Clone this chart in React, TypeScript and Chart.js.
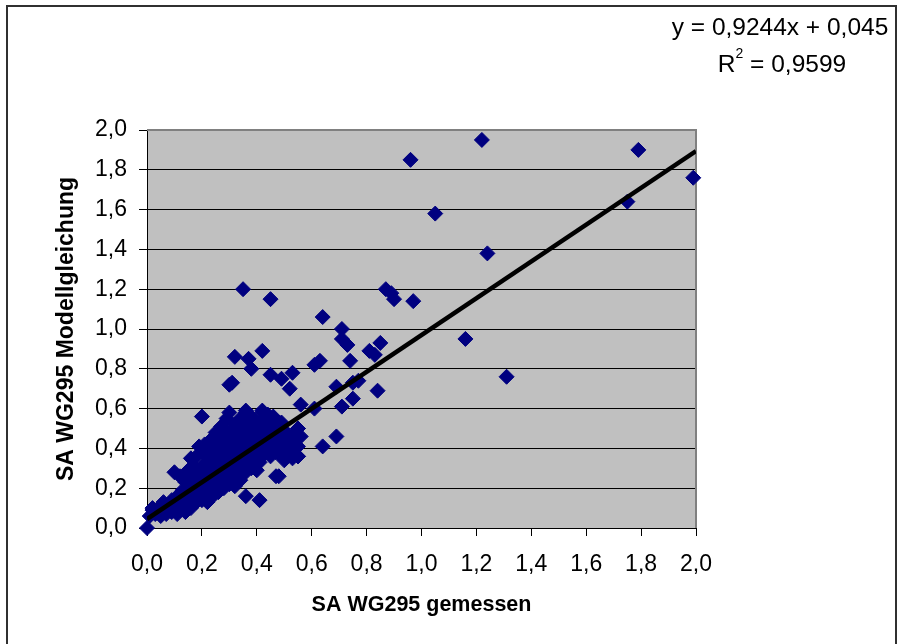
import React, { useEffect, useRef } from "react";
import { Chart, registerables } from "chart.js";

Chart.register(...registerables);

// Measured (x) and model (y) values, grouped so both arrays stay aligned
const measured = [
  0, 0.01, 0.02, 0.03, 0.02,
  0.04, 0.05, 0.05, 0.06, 0.06,
  0.07, 0.08, 0.08, 0.09, 0.09,
  0.10, 0.10, 0.11, 0.11, 0.12, 0.12, 0.12,
  0.13, 0.13, 0.14, 0.14, 0.14, 0.15, 0.15, 0.15,
  0.16, 0.16, 0.16, 0.17, 0.17, 0.17, 0.18, 0.18, 0.18, 0.18,
  0.19, 0.19, 0.19, 0.20, 0.20, 0.20, 0.20, 0.21, 0.21, 0.21, 0.21,
  0.22, 0.22, 0.22, 0.23, 0.23, 0.23, 0.23, 0.24, 0.24, 0.24, 0.24,
  0.25, 0.25, 0.25, 0.25, 0.26, 0.26, 0.26, 0.26, 0.27, 0.27, 0.27, 0.27,
  0.28, 0.28, 0.28, 0.28, 0.29, 0.29, 0.29, 0.29, 0.30, 0.30, 0.30, 0.30, 0.30,
  0.31, 0.31, 0.31, 0.32, 0.32, 0.32, 0.32, 0.33, 0.33, 0.33, 0.33,
  0.34, 0.34, 0.34, 0.34, 0.35, 0.35, 0.35, 0.36, 0.36, 0.36, 0.36, 0.36,
  0.37, 0.37, 0.37, 0.38, 0.38, 0.38, 0.38, 0.39, 0.39, 0.39,
  0.40, 0.40, 0.40, 0.40, 0.41, 0.41, 0.41, 0.42, 0.42, 0.42, 0.42,
  0.43, 0.43, 0.43, 0.44, 0.44, 0.44, 0.45, 0.45, 0.45,
  0.46, 0.46, 0.46, 0.47, 0.47, 0.47, 0.48, 0.48, 0.48,
  0.49, 0.49, 0.49, 0.50, 0.50, 0.50, 0.51, 0.52,
  0.53, 0.53, 0.54, 0.55, 0.55, 0.56, 0.56,
  0.32, 0.37, 0.42, 0.38, 0.45, 0.49, 0.53, 0.52, 0.30, 0.31,
  0.36, 0.42, 0.61, 0.71, 0.75, 0.69, 0.64, 0.48, 0.41, 0.55,
  0.55, 0.50, 0.55, 0.54, 0.84, 0.69, 0.75, 0.77, 0.61, 0.63,
  0.74, 0.71, 0.73, 0.71, 0.64, 0.81, 0.83, 0.85, 0.87, 0.89,
  0.90, 0.97, 0.35, 0.45, 0.96, 1.05, 1.22, 1.24, 1.16, 1.31,
  1.75, 1.79, 1.99, 0.49, 0.50, 0.53, 0.50,
];

const model = [
  0, 0.06, 0.09, 0.07, 0.10,
  0.08, 0.11, 0.06, 0.13, 0.09,
  0.07, 0.12, 0.10, 0.08, 0.14,
  0.28, 0.11, 0.07, 0.16, 0.13, 0.09, 0.26,
  0.19, 0.11, 0.08, 0.23, 0.15, 0.29, 0.12, 0.18,
  0.35, 0.21, 0.10, 0.26, 0.16, 0.31, 0.13, 0.22, 0.28, 0.36,
  0.41, 0.19, 0.25, 0.56, 0.14, 0.31, 0.21, 0.37, 0.27, 0.17, 0.42,
  0.33, 0.23, 0.13, 0.44, 0.29, 0.19, 0.38, 0.26, 0.35, 0.16, 0.31,
  0.48, 0.22, 0.40, 0.29, 0.36, 0.18, 0.44, 0.27, 0.33, 0.24, 0.39, 0.51,
  0.29, 0.20, 0.46, 0.36, 0.42, 0.25, 0.33, 0.55, 0.38, 0.22, 0.31, 0.48, 0.58,
  0.27, 0.43, 0.35, 0.52, 0.30, 0.40, 0.21, 0.37, 0.46, 0.26, 0.33,
  0.42, 0.29, 0.55, 0.24, 0.36, 0.49, 0.31, 0.58, 0.40, 0.28, 0.16, 0.45,
  0.34, 0.52, 0.43, 0.30, 0.47, 0.38, 0.56, 0.33, 0.42, 0.50,
  0.37, 0.45, 0.50, 0.29, 0.53, 0.40, 0.33, 0.58, 0.47, 0.36, 0.41,
  0.44, 0.52, 0.38, 0.49, 0.41, 0.57, 0.45, 0.36, 0.53,
  0.41, 0.50, 0.56, 0.44, 0.38, 0.26, 0.48, 0.53, 0.43,
  0.46, 0.38, 0.52, 0.41, 0.35, 0.49, 0.45, 0.38,
  0.43, 0.35, 0.47, 0.50, 0.36, 0.46, 0.62,
  0.86, 0.85, 0.89, 0.80, 0.77, 0.75, 0.78, 0.70, 0.72, 0.73,
  0.59, 0.59, 0.60, 0.61, 0.65, 0.46, 0.41, 0.26, 0.14, 0.36,
  0.41, 0.34, 0.50, 0.47, 0.69, 0.71, 0.73, 0.74, 0.82, 0.84,
  0.84, 0.95, 0.92, 1.00, 1.06, 0.89, 0.87, 0.93, 1.20, 1.18,
  1.15, 1.14, 1.20, 1.15, 1.85, 1.58, 1.95, 1.38, 0.95, 0.76,
  1.64, 1.90, 1.76, 0.53, 0.46, 0.43, 0.35,
];

// Linear trendline (Excel)
const trendSlope = 0.9244;
const trendIntercept = 0.045;
const trendRange = [0, 2];
const equationLine = "y = 0,9244x + 0,045";
const r2Value = "0,9599";

const xTickValues = [0, 0.2, 0.4, 0.6, 0.8, 1.0, 1.2, 1.4, 1.6, 1.8, 2.0];
const yTickValues = [0, 0.2, 0.4, 0.6, 0.8, 1.0, 1.2, 1.4, 1.6, 1.8, 2.0];
const xTitle = "SA WG295 gemessen";
const yTitle = "SA WG295 Modellgleichung";

const FONT = "'Liberation Sans', Arial, Helvetica, sans-serif";
const fmt = (v: number) => v.toFixed(1).replace(".", ",");

const decorPlugin = {
  id: "decor",
  beforeDraw(chart: any) {
    const { ctx, chartArea: a } = chart;
    ctx.save();
    ctx.fillStyle = "#ffffff";
    ctx.fillRect(0, 0, chart.width, chart.height);
    ctx.fillStyle = "#c0c0c0";
    ctx.fillRect(a.left, a.top, a.right - a.left, a.bottom - a.top);
    ctx.restore();
  },
  beforeDatasetsDraw(chart: any) {
    const { ctx, chartArea: a } = chart;
    ctx.save();
    ctx.strokeStyle = "#808080";
    ctx.lineWidth = 2;
    ctx.beginPath();
    ctx.moveTo(a.left, a.top);
    ctx.lineTo(a.right, a.top);
    ctx.lineTo(a.right, a.bottom);
    ctx.stroke();
    ctx.restore();
  },
  afterDraw(chart: any) {
    const { ctx } = chart;
    ctx.save();
    // outer chart border
    ctx.strokeStyle = "#303030";
    ctx.lineWidth = 2;
    ctx.strokeRect(7, 6, 889, 660);
    // trendline equation
    ctx.fillStyle = "#000";
    ctx.textBaseline = "alphabetic";
    ctx.font = `24.5px ${FONT}`;
    ctx.textAlign = "center";
    ctx.fillText(equationLine, 780, 35);
    ctx.textAlign = "left";
    const rW = ctx.measureText("R").width;
    const rest = " = " + r2Value;
    const restW = ctx.measureText(rest).width;
    ctx.font = `14px ${FONT}`;
    const supW = ctx.measureText("2").width;
    const total = rW + supW + restW;
    let x = 782 - total / 2;
    ctx.font = `24.5px ${FONT}`;
    ctx.fillText("R", x, 72);
    x += rW;
    ctx.font = `14px ${FONT}`;
    ctx.fillText("2", x, 58);
    x += supW;
    ctx.font = `24.5px ${FONT}`;
    ctx.fillText(rest, x, 72);
    ctx.restore();
  },
};

export default function App() {
  const canvasRef = useRef<HTMLCanvasElement | null>(null);

  useEffect(() => {
    const canvas = canvasRef.current;
    if (!canvas) return;
    const points = measured.map((x, i) => ({ x, y: model[i] }));
    const trend = trendRange.map((x) => ({ x, y: trendIntercept + trendSlope * x }));

    const chart = new Chart(canvas, {
      type: "scatter",
      data: {
        datasets: [
          {
            type: "line",
            data: trend,
            borderColor: "#000000",
            borderWidth: 4.5,
            pointRadius: 0,
            fill: false,
            order: 0,
          } as any,
          {
            type: "scatter",
            data: points,
            pointStyle: "rectRot",
            pointRadius: 7.5,
            backgroundColor: "#000080",
            borderColor: "#000080",
            borderWidth: 1,
            order: 1,
            clip: false,
          } as any,
        ],
      },
      options: {
        responsive: false,
        animation: false,
        devicePixelRatio: 1,
        layout: { padding: { top: 130, right: 201, left: 0, bottom: 0 } },
        plugins: {
          legend: { display: false },
          tooltip: { enabled: false },
        },
        scales: {
          x: {
            type: "linear",
            min: 0,
            max: 2,
            afterFit: (s: any) => {
              s.height = 116;
            },
            afterBuildTicks: (s: any) => {
              s.ticks = xTickValues.map((v) => ({ value: v }));
            },
            ticks: {
              autoSkip: false,
              maxRotation: 0,
              color: "#000",
              padding: 15,
              font: { family: FONT, size: 23 },
              callback: (v: any) => fmt(Number(v)),
            },
            grid: {
              drawOnChartArea: false,
              drawTicks: true,
              tickLength: 8,
              color: "#000",
            },
            border: { display: true, color: "#000", width: 1 },
            title: {
              display: true,
              text: xTitle,
              color: "#000",
              font: { family: FONT, size: 21.5, weight: "bold" },
              padding: { top: 0, bottom: 26 },
            },
          },
          y: {
            type: "linear",
            min: 0,
            max: 2,
            afterFit: (s: any) => {
              s.width = 147;
            },
            afterBuildTicks: (s: any) => {
              s.ticks = yTickValues.map((v) => ({ value: v }));
            },
            ticks: {
              autoSkip: false,
              color: "#000",
              padding: 12,
              font: { family: FONT, size: 23 },
              callback: (v: any) => fmt(Number(v)),
            },
            grid: {
              drawTicks: true,
              tickLength: 8,
              color: (c: any) => (c.tick && c.tick.value === 2 ? "#808080" : "#000000"),
              tickColor: "#000",
            },
            border: { display: true, color: "#000", width: 1 },
            title: {
              display: true,
              text: yTitle,
              color: "#000",
              font: { family: FONT, size: 23, weight: "bold" },
              padding: { top: 53, bottom: 0 },
            },
          },
        },
      },
      plugins: [decorPlugin],
    });
    return () => chart.destroy();
  }, []);

  return (
    <div style={{ position: "absolute", left: 0, top: 0, width: 897, height: 644 }}>
      <canvas ref={canvasRef} width={897} height={644} style={{ display: "block" }} />
    </div>
  );
}
